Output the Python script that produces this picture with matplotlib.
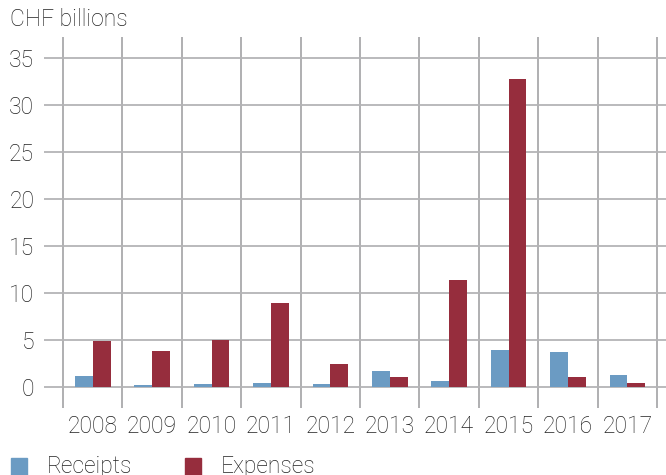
import numpy as np
import matplotlib
matplotlib.use("Agg")
from matplotlib import pyplot as plt
from matplotlib.patches import Rectangle

years = ["2008", "2009", "2010", "2011", "2012", "2013", "2014", "2015", "2016", "2017"]
receipts = [1.15, 0.2, 0.4, 0.5, 0.4, 1.7, 0.7, 4.0, 3.7, 1.35]
expenses = [4.9, 3.9, 5.0, 8.9, 2.5, 1.05, 11.35, 32.7, 1.05, 0.5]
yticks = [0, 5, 10, 15, 20, 25, 30, 35]

blue = "#6b9bc3"
red = "#962d3d"
grid = "#b4b4b6"
txt = "#222222"
fs = 16.5

plt.rcParams['font.family'] = ['Roboto', 'DejaVu Sans']
plt.rcParams['font.weight'] = 'light'

fig = plt.figure(figsize=(6.66, 4.75), dpi=100)
ax = fig.add_axes([44 / 666, 1 - 408 / 475, 1 - 44 / 666, (408 - 37) / 475])

x = np.arange(len(years))
w = 0.3
ax.bar(x - w / 2, receipts, w, color=blue, zorder=3)
ax.bar(x + w / 2, expenses, w, color=red, zorder=3)

# year separators and value gridlines
for b in np.arange(-0.5, len(years), 1.0):
    ax.axvline(b, color="#a9a9ab", lw=1.3, zorder=1)
for t in yticks:
    ax.axhline(t, color=grid, lw=1.3, zorder=1)

ax.set_xlim(-0.82, 9.65)
ax.set_ylim(-2.2, 37.2)
ax.set_yticks(yticks)
ax.set_xticks(x)
ax.set_xticklabels(years)
ax.tick_params(axis="both", length=0, labelsize=fs, colors=txt)
ax.tick_params(axis="y", pad=7)
ax.tick_params(axis="x", pad=5)
for s in ax.spines.values():
    s.set_visible(False)

fig.text(10 / 666, 1 - 20 / 475, "CHF billions", fontsize=fs, color=txt, va="center", ha="left")

# legend along the bottom edge
for lx, col, label in [(11, blue, "Receipts"), (185, red, "Expenses")]:
    fig.patches.append(Rectangle((lx / 666, 0), 16 / 666, 17 / 475, transform=fig.transFigure,
                                 color=col, figure=fig))
    fig.text((lx + 36) / 666, 1 - 466 / 475, label, fontsize=fs, color=txt, va="center", ha="left")

fig.savefig("out.png", dpi=100)
